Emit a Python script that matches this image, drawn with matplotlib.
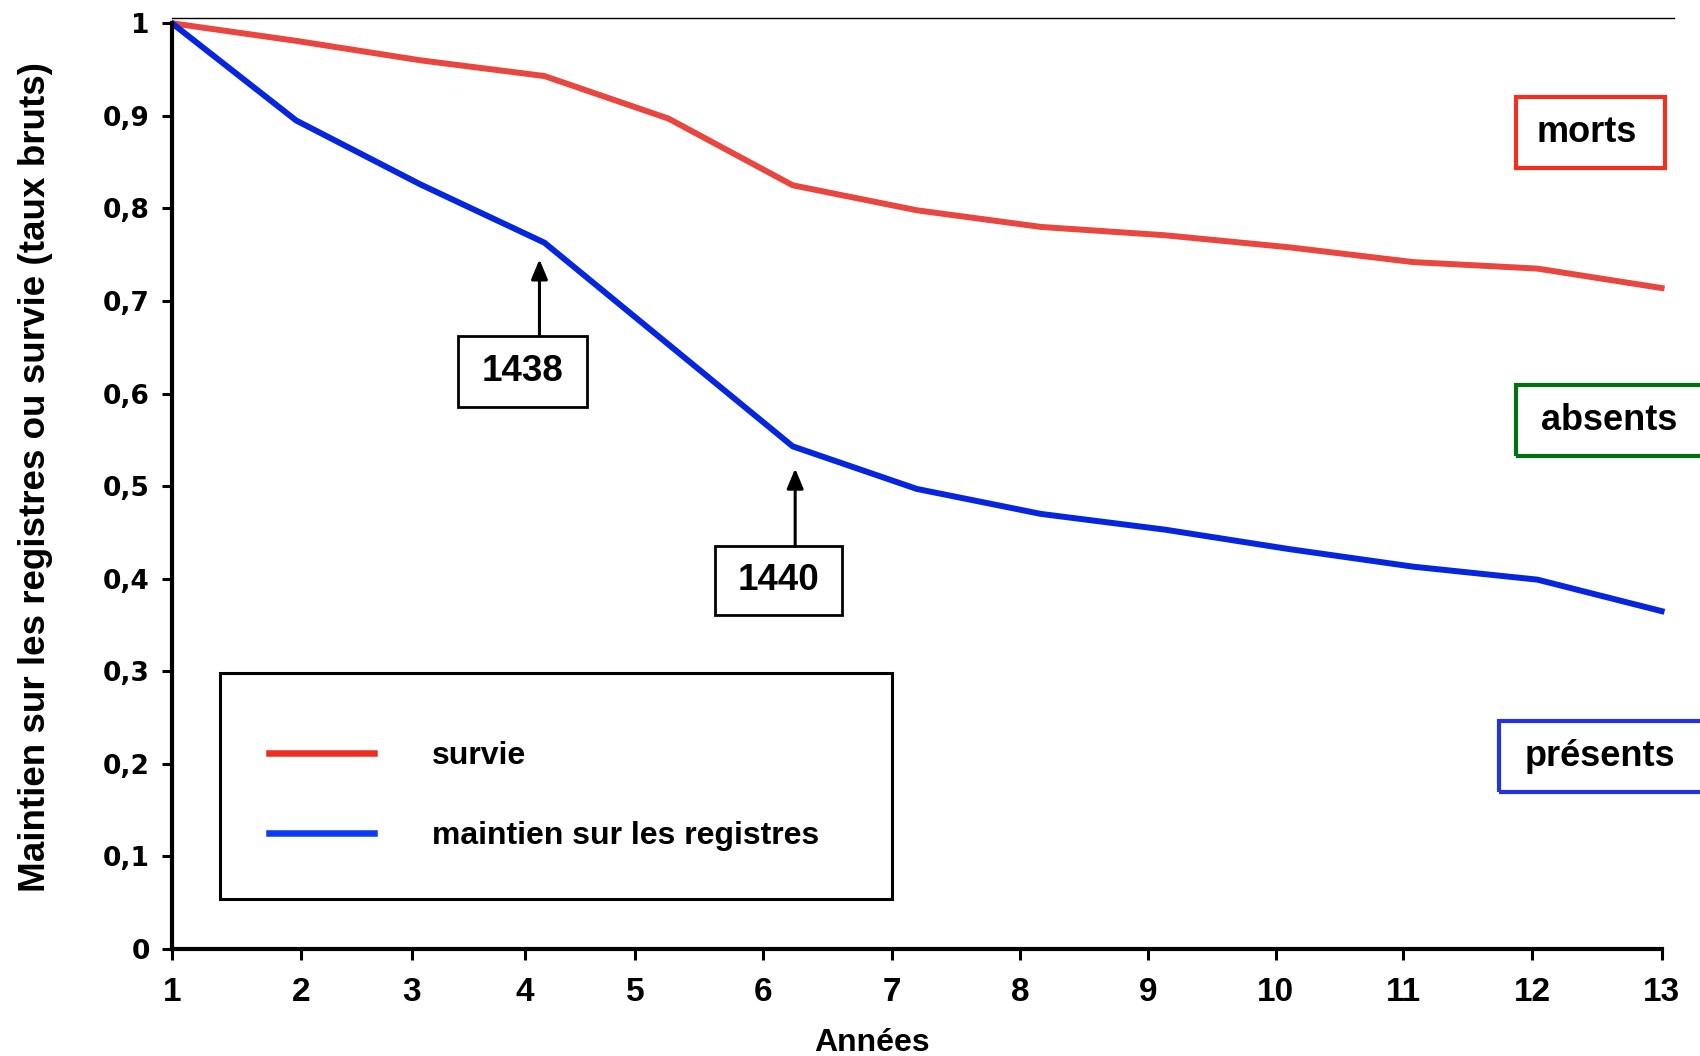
import matplotlib.pyplot as plt
from matplotlib.patches import Rectangle
from matplotlib.lines import Line2D

# data
years = list(range(1, 14))
survie = [1.0, 0.981, 0.960, 0.943, 0.897, 0.825, 0.798, 0.780, 0.771, 0.758, 0.742, 0.735, 0.714]
maintien = [1.0, 0.895, 0.826, 0.763, 0.653, 0.543, 0.497, 0.470, 0.453, 0.432, 0.413, 0.399, 0.365]

y_ticks = [0, 0.1, 0.2, 0.3, 0.4, 0.5, 0.6, 0.7, 0.8, 0.9, 1.0]
y_labels = ['0', '0,1', '0,2', '0,3', '0,4', '0,5', '0,6', '0,7', '0,8', '0,9', '1']
x_labels = [str(y) for y in years]
# the original tick marks are not evenly spaced
x_tick_pos = [1, 2.04, 2.93, 3.84, 4.73, 5.76, 6.80, 7.83, 8.86, 9.89, 10.92, 11.96, 13]

plt.rcParams['font.family'] = ['Liberation Sans', 'DejaVu Sans']
plt.rcParams['font.weight'] = 'bold'

red_line = '#e8463f'
blue_line = '#0526de'

fig = plt.figure(figsize=(17, 10.56), dpi=100)
ax = fig.add_axes([0.1012, 0.1013, 0.8835, 0.8814])

ax.plot(years, survie, color=red_line, lw=4.3, solid_joinstyle='miter')
ax.plot(years, maintien, color=blue_line, lw=4.3, solid_joinstyle='miter')

ax.set_xlim(1, 13.1)
ax.set_ylim(0, 1.0054)

ax.spines['right'].set_visible(False)
ax.spines['top'].set_linewidth(1.0)
ax.spines['left'].set_linewidth(3)
ax.spines['bottom'].set_linewidth(3)
ax.spines['left'].set_bounds(0, 1)
ax.spines['bottom'].set_bounds(1, 13)

ax.set_xticks(x_tick_pos)
ax.set_xticklabels(x_labels)
ax.set_yticks(y_ticks)
ax.set_yticklabels(y_labels, family='DejaVu Sans')
ax.tick_params(axis='x', direction='out', length=8, width=2.2, pad=12, labelsize=24)
ax.tick_params(axis='y', direction='out', length=7, width=2.2, pad=9, labelsize=19)

ax.set_xlabel('Années', fontsize=23, fontweight='bold')
ax.xaxis.set_label_coords(0.466, -0.085)
ax.set_ylabel('Maintien sur les registres ou survie (taux bruts)', fontsize=26.5,
              fontweight='bold')
ax.yaxis.set_label_coords(-0.079, 0.507)

# arrows and boxes for the two annotations
notes = [('1438', 3.96, 0.745, 0.662, 3.303, 0.586, 1.039, 0.076),
         ('1440', 6.02, 0.519, 0.435, 5.377, 0.361, 1.022, 0.074)]
for txt, ax_x, tip, base, bx, by, bw, bh in notes:
    ax.annotate('', xy=(ax_x, tip), xytext=(ax_x, base),
                arrowprops=dict(arrowstyle='-|>,head_length=0.6,head_width=0.25',
                                mutation_scale=20, lw=2.2, color='black',
                                shrinkA=0, shrinkB=0))
    ax.add_patch(Rectangle((bx, by), bw, bh, fill=False, edgecolor='black', lw=2))
    ax.text(bx + bw / 2, by + bh / 2, txt, ha='center', va='center',
            fontsize=26.5, fontweight='bold')

# legend: frame drawn separately so the entries can sit where they do in the original
fig.add_artist(Rectangle((0.1294, 0.1487), 0.3953, 0.214, transform=fig.transFigure,
                         fill=False, edgecolor='black', lw=2.2))
handles = [Line2D([], [], color='#f02e1e', lw=4.7),
           Line2D([], [], color='#0a3cf5', lw=4.7)]
ax.legend(handles, ['survie', 'maintien sur les registres'],
          loc='upper left', bbox_to_anchor=(0.1582, 0.298),
          bbox_transform=fig.transFigure, borderaxespad=0, borderpad=0,
          fontsize=23, handlelength=3.3, handletextpad=1.8, labelspacing=1.56,
          frameon=False)

# boxed labels on the right
side = [('morts', '#f2301f', 0.8918, 0.8410, 0.0876, 0.0667, 0.9335),
        ('absents', '#007010', 0.8918, 0.5682, 0.1110, 0.0672, 0.9465),
        ('présents', '#2233e0', 0.8818, 0.2500, 0.1210, 0.0672, 0.9412)]
for txt, col, x0, y0, w, h, tx in side:
    fig.add_artist(Rectangle((x0, y0), w, h, transform=fig.transFigure,
                             fill=False, edgecolor=col, lw=3))
    fig.text(tx, y0 + h / 2, txt, ha='center', va='center', fontsize=26,
             fontweight='bold')

plt.savefig('out.png', dpi=100)
